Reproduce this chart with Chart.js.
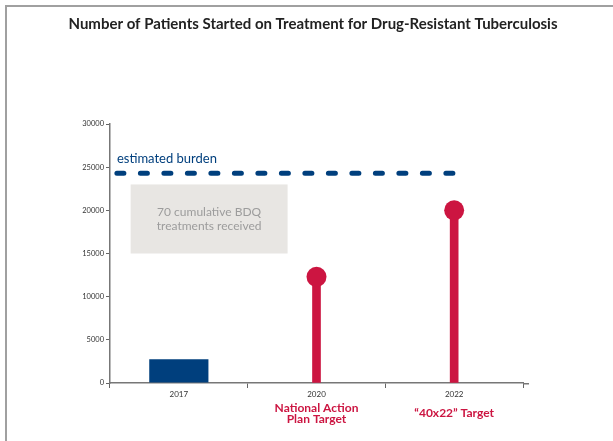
<!DOCTYPE html>
<html>
<head>
<meta charset="utf-8">
<script src="https://cdn.jsdelivr.net/npm/chart.js@4.4.1/dist/chart.umd.min.js"></script>
<style>
  html, body { margin: 0; padding: 0; background: #fff; }
  #wrap { position: relative; width: 613px; height: 441px; }
  #frame { position: absolute; left: 5px; top: 5px; right: 0; bottom: 0;
           border-top: 2px solid #a0a0a0; border-left: 2px solid #a0a0a0; }
  canvas { position: absolute; left: 0; top: 0; }
</style>
</head>
<body>
<div id="wrap">
  <div id="frame"></div>
  <canvas id="chart" width="613" height="441"></canvas>
</div>
<script>
// Datos del gráfico
const categories = ['2017', '2020', '2022'];
const startedValues = [2750, null, null];
const targetValues = [null, 12300, 20000];
const burdenValue = 24300;
const burdenSpan = [-0.45, 2.05];
const burdenLabel = 'estimated burden';
const bdqBoxX = [-0.35, 0.79];
const bdqBoxY = [15000, 23000];
const bdqLines = ['70 cumulative BDQ', 'treatments received'];
const targetLabels = [[], ['National Action', 'Plan Target'], ['\u201C40x22\u201D Target']];
const yTicks = [0, 5000, 10000, 15000, 20000, 25000, 30000];
const chartTitle = 'Number of Patients Started on Treatment for Drug-Resistant Tuberculosis';

const NAVY = '#003f7d';
const RED = '#cc1541';
const FONT = 'Lato, "Open Sans", sans-serif';

Chart.defaults.font.family = FONT;

// Plugin para título, caja gris, textos y etiquetas de metas
const extrasPlugin = {
  id: 'extras',
  beforeDatasetsDraw(chart) {
    const { ctx, scales } = chart;
    const x2 = scales.x2, y = scales.y;
    const left = x2.getPixelForValue(bdqBoxX[0]);
    const right = x2.getPixelForValue(bdqBoxX[1]);
    const top = y.getPixelForValue(bdqBoxY[1]);
    const bottom = y.getPixelForValue(bdqBoxY[0]);
    ctx.save();
    ctx.fillStyle = '#e8e6e3';
    ctx.fillRect(left, top, right - left, bottom - top);
    ctx.fillStyle = '#9c9c9c';
    ctx.font = '12px ' + FONT;
    ctx.textAlign = 'center';
    ctx.textBaseline = 'middle';
    const cx = (left + right) / 2;
    const cy = (top + bottom) / 2;
    bdqLines.forEach((line, i) => {
      ctx.fillText(line, cx, cy + (i - (bdqLines.length - 1) / 2) * 14);
    });
    // Prolongación del eje x más allá de la última categoría
    const ca = chart.chartArea;
    ctx.strokeStyle = '#777';
    ctx.lineWidth = 1.5;
    ctx.beginPath();
    ctx.moveTo(ca.right, ca.bottom + 0.75);
    ctx.lineTo(ca.right + 6, ca.bottom + 0.75);
    ctx.stroke();
    ctx.restore();
  },
  afterDraw(chart) {
    const { ctx, scales } = chart;
    ctx.save();
    // Título
    ctx.fillStyle = '#222';
    ctx.font = 'bold 15px ' + FONT;
    ctx.textAlign = 'center';
    ctx.textBaseline = 'middle';
    ctx.fillText(chartTitle, 313, 24);

    // Texto de carga estimada
    ctx.fillStyle = NAVY;
    ctx.font = '13px ' + FONT;
    ctx.textAlign = 'left';
    ctx.textBaseline = 'alphabetic';
    ctx.fillText(burdenLabel, scales.x2.getPixelForValue(burdenSpan[0]),
                 scales.y.getPixelForValue(burdenValue) - 10);

    // Etiquetas de metas
    ctx.fillStyle = RED;
    ctx.font = 'bold 12px ' + FONT;
    ctx.textAlign = 'center';
    ctx.textBaseline = 'middle';
    targetLabels.forEach((lines, i) => {
      const px = scales.x.getPixelForValue(i);
      const base = lines.length > 1 ? 408 : 413;
      lines.forEach((line, j) => ctx.fillText(line, px, base + j * 11));
    });
    ctx.restore();
  }
};

const ctx = document.getElementById('chart').getContext('2d');
new Chart(ctx, {
  data: {
    labels: categories,
    datasets: [
      {
        type: 'bar',
        data: startedValues,
        backgroundColor: NAVY,
        grouped: false,
        categoryPercentage: 1,
        barPercentage: 0.43,
        order: 3
      },
      {
        type: 'bar',
        data: targetValues,
        backgroundColor: RED,
        grouped: false,
        barThickness: 8,
        order: 2
      },
      {
        type: 'line',
        data: targetValues,
        showLine: false,
        pointRadius: 10,
        pointHoverRadius: 10,
        pointBackgroundColor: RED,
        pointBorderWidth: 0,
        order: 1
      },
      {
        type: 'line',
        xAxisID: 'x2',
        data: burdenSpan.map(v => ({ x: v, y: burdenValue })),
        borderColor: NAVY,
        borderWidth: 5,
        borderDash: [7, 16.5],
        borderCapStyle: 'round',
        pointRadius: 0,
        order: 0
      }
    ]
  },
  options: {
    responsive: false,
    animation: false,
    layout: { padding: { left: 60, right: 90, top: 124, bottom: 38 } },
    plugins: {
      legend: { display: false },
      tooltip: { enabled: false },
      title: { display: false }
    },
    scales: {
      x: {
        type: 'category',
        offset: true,
        grid: { offset: true, drawOnChartArea: false, tickLength: 5, color: '#666', lineWidth: 1 },
        border: { color: '#777', width: 1.5 },
        ticks: { color: '#333', font: { size: 8 }, padding: 2 },
        afterFit(scale) { scale.height = 20; }
      },
      x2: {
        type: 'linear',
        display: false,
        min: -0.5,
        max: 2.5
      },
      y: {
        min: 0,
        max: 30000,
        afterBuildTicks(scale) { scale.ticks = yTicks.map(v => ({ value: v })); },
        grid: { drawOnChartArea: false, tickLength: 4, color: '#666', lineWidth: 1 },
        border: { color: '#777', width: 1.5 },
        ticks: { color: '#333', font: { size: 7.5 }, padding: 2, callback: v => String(v) },
        afterFit(scale) { scale.width = 50; }
      }
    }
  },
  plugins: [extrasPlugin]
});
</script>
</body>
</html>
